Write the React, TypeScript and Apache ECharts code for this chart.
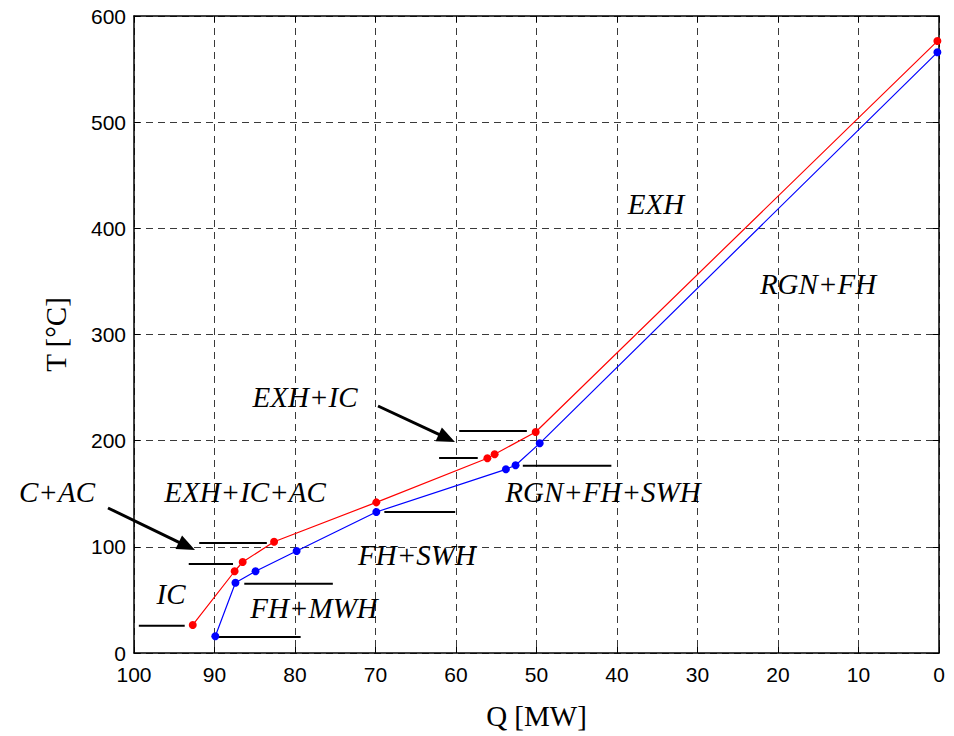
import React, { useEffect, useRef } from "react";
import * as echarts from "echarts";

// Hot composite curve (red)
const hotQ = [0.2, 50.1, 55.2, 56.1, 69.9, 82.6, 86.5, 87.5, 92.7];
const hotT = [576.4, 208.2, 187.2, 183.4, 141.9, 104.8, 85.7, 77.0, 26.4];
// Cold composite curve (blue)
const coldQ = [0.2, 49.6, 52.6, 53.8, 69.9, 79.8, 84.9, 87.4, 89.9];
const coldT = [565.8, 197.5, 176.8, 173.0, 132.8, 96.1, 77.0, 66.2, 15.7];
// Stream temperature levels (black horizontal marks)
const levelT = [209.1, 183.7, 176.4, 132.8, 103.6, 83.8, 65.3, 25.7, 15.1];
const levelQStart = [59.6, 62.1, 51.7, 68.9, 91.9, 93.2, 86.3, 99.4, 89.9];
const levelQEnd = [51.2, 57.3, 40.7, 60.1, 83.5, 87.7, 75.3, 93.7, 79.3];
// Region labels
const regionLabels = ["EXH", "RGN+FH", "EXH+IC", "C+AC", "EXH+IC+AC", "RGN+FH+SWH", "FH+SWH", "IC", "FH+MWH"];

// layout (pixels) for annotation texts
const labelPos: [number, number, string][] = [
  [656, 204, "center"],
  [818, 284, "center"],
  [305, 397, "center"],
  [19, 492, "left"],
  [245, 492, "center"],
  [603, 492, "center"],
  [417, 555, "center"],
  [171, 594, "center"],
  [314, 608, "center"],
];
// arrows: tail x,y -> tip x,y (pixels)
const arrowGeom = [
  [378, 406, 455, 442],
  [108, 508, 195, 550],
];

function arrowElems(tx: number, ty: number, hx: number, hy: number) {
  const dx = hx - tx;
  const dy = hy - ty;
  const len = Math.sqrt(dx * dx + dy * dy);
  const ux = dx / len;
  const uy = dy / len;
  const hl = 18;
  const hw = 7.5;
  const bx = hx - hl * ux;
  const by = hy - hl * uy;
  const nx = -uy;
  const ny = ux;
  return [
    {
      type: "line",
      shape: { x1: tx, y1: ty, x2: bx + ux * 2, y2: by + uy * 2 },
      style: { stroke: "#000", lineWidth: 3 },
      z: 100,
    },
    {
      type: "polygon",
      shape: {
        points: [
          [hx, hy],
          [bx + hw * nx, by + hw * ny],
          [bx - hw * nx, by - hw * ny],
        ],
      },
      style: { fill: "#000" },
      z: 100,
    },
  ];
}

export default function App() {
  const ref = useRef<HTMLDivElement>(null);
  useEffect(() => {
    if (!ref.current) return;
    const chart = echarts.init(ref.current, null, { renderer: "svg" });
    const serif = "'Liberation Serif', 'Times New Roman', serif";
    const sans = "'Liberation Sans', Arial, sans-serif";
    const gridDash = { color: "#3a3a3a", type: [7, 5] as any, width: 1 };

    const levelSeries = levelT.map((t, i) => ({
      type: "line",
      xAxisIndex: 0,
      yAxisIndex: 0,
      data: [
        [levelQStart[i], t],
        [levelQEnd[i], t],
      ],
      showSymbol: false,
      symbol: "none",
      lineStyle: { color: "#000", width: 2 },
      silent: true,
      z: 3,
    }));

    const graphics: any[] = [];
    regionLabels.forEach((txt, i) => {
      const [x, y, align] = labelPos[i];
      graphics.push({
        type: "text",
        x,
        y,
        style: {
          text: txt,
          fontFamily: serif,
          fontStyle: "italic",
          fontSize: 29,
          fill: "#000",
          textAlign: align,
          textVerticalAlign: "middle",
        },
        z: 100,
      });
    });
    arrowGeom.forEach((a) => graphics.push(...arrowElems(a[0], a[1], a[2], a[3])));

    chart.setOption({
      animation: false,
      backgroundColor: "#fff",
      grid: { left: 134, right: 15, top: 16, bottom: 83, containLabel: false },
      xAxis: [
        {
          type: "value",
          min: 0,
          max: 100,
          interval: 10,
          inverse: true,
          position: "bottom",
          name: "Q [MW]",
          nameLocation: "middle",
          nameGap: 48,
          nameTextStyle: { fontFamily: serif, fontSize: 29, color: "#000" },
          axisLine: { show: true, onZero: false, lineStyle: { color: "#000", width: 1.5 } },
          axisTick: { show: true, inside: true, length: 6, lineStyle: { color: "#000" } },
          axisLabel: { fontFamily: sans, fontSize: 21, lineHeight: 16, color: "#000", margin: 13 },
          splitLine: { show: true, lineStyle: gridDash },
        },
        {
          type: "value",
          min: 0,
          max: 100,
          interval: 10,
          inverse: true,
          position: "top",
          axisLine: { show: true, onZero: false, lineStyle: { color: "#000", width: 1.5 } },
          axisTick: { show: true, inside: true, length: 6, lineStyle: { color: "#000" } },
          axisLabel: { show: false },
          splitLine: { show: false },
        },
      ],
      yAxis: [
        {
          type: "value",
          min: 0,
          max: 600,
          interval: 100,
          position: "left",
          name: "T [°C]",
          nameLocation: "middle",
          nameGap: 64,
          nameRotate: 90,
          nameTextStyle: { fontFamily: serif, fontSize: 29, color: "#000" },
          axisLine: { show: true, onZero: false, lineStyle: { color: "#000", width: 1.5 } },
          axisTick: { show: true, inside: true, length: 6, lineStyle: { color: "#000" } },
          axisLabel: { fontFamily: sans, fontSize: 21, lineHeight: 16, color: "#000", margin: 8 },
          splitLine: { show: true, lineStyle: gridDash },
        },
        {
          type: "value",
          min: 0,
          max: 600,
          interval: 100,
          position: "right",
          axisLine: { show: true, onZero: false, lineStyle: { color: "#000", width: 1.5 } },
          axisTick: { show: true, inside: true, length: 6, lineStyle: { color: "#000" } },
          axisLabel: { show: false },
          splitLine: { show: false },
        },
      ],
      series: [
        ...levelSeries,
        {
          type: "line",
          name: "Hot",
          data: hotQ.map((q, i) => [q, hotT[i]]),
          symbol: "circle",
          symbolSize: 8,
          lineStyle: { color: "#ff0000", width: 1.2 },
          itemStyle: { color: "#ff0000" },
          z: 5,
        },
        {
          type: "line",
          name: "Cold",
          data: coldQ.map((q, i) => [q, coldT[i]]),
          symbol: "circle",
          symbolSize: 8,
          lineStyle: { color: "#0000ff", width: 1.2 },
          itemStyle: { color: "#0000ff" },
          z: 5,
        },
      ],
      graphic: graphics,
    });
    return () => chart.dispose();
  }, []);
  return (
    <div
      ref={ref}
      style={{ position: "fixed", left: 0, top: 0, width: 954, height: 736, background: "#fff" }}
    />
  );
}
